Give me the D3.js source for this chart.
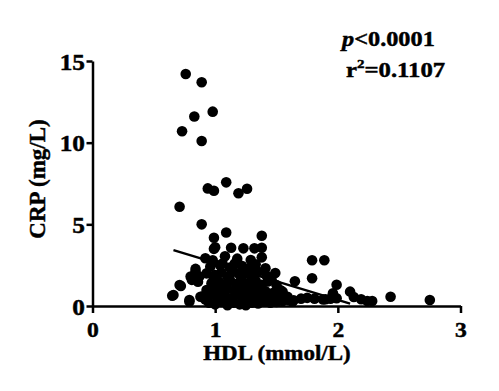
<!DOCTYPE html>
<html><head><meta charset="utf-8">
<script src="https://cdn.jsdelivr.net/npm/d3@7"></script>
<style>
html,body{margin:0;padding:0;background:#fff;}
svg text{font-family:"Liberation Serif","Times New Roman",serif !important;font-weight:bold !important;fill:#000;stroke:#000;stroke-width:0.45px;}
</style></head>
<body><svg id="c" width="499" height="391"></svg>
<script>
// HDL (mmol/L) values
const hdl = [
 0.76,0.89,0.83,0.98,0.73,0.89,
 0.94,0.99,1.09,1.19,1.26,0.71,
 0.89,1.09,0.99,1.38,1.38,1.13,1.23,1.32,0.99,1.00,
 1.38,0.92,1.08,1.18,1.29,1.79,1.89,1.79,0.98,
 1.41,1.49,1.65,1.99,2.10,2.43,2.75,2.28,2.24,2.19,2.13,1.99,1.96,1.90,1.94,1.88,1.81,1.75,1.70,1.64,1.63,1.55,
 0.65,0.72,0.79,0.80,0.84,0.93,0.86,0.88,0.93,0.99,0.66,0.71,0.81,0.87,0.84,0.79,
 0.95,1.00,1.05,1.10,1.15,1.20,1.25,1.30,1.35,1.40,1.45,1.50,1.55,1.60,1.02,1.12,1.22,1.32,0.92,
 0.90,0.97,1.03,1.08,1.14,1.18,1.24,1.28,1.34,1.38,1.43,1.48,1.59,1.53,
 0.95,1.00,1.05,1.10,1.16,1.21,1.26,1.31,1.36,1.41,1.47,1.53,1.50,
 0.97,1.03,1.07,1.12,1.17,1.22,1.27,1.33,1.38,1.43,1.46,
 1.00,1.05,1.10,1.15,1.20,1.25,1.30,1.35,1.42,
 0.96,1.04,1.12,1.16,1.22,1.28,1.33,1.06
];
// CRP (mg/L) values
const crp = [
 14.2,13.7,11.6,11.9,10.7,10.1,
 7.2,7.06,7.57,6.9,7.18,6.08,
 5.0,4.5,4.18,4.3,3.57,3.57,3.53,3.53,3.5,3.6,
 2.98,2.92,3.04,2.9,2.82,2.8,2.8,1.7,2.8,
 2.31,2.02,1.51,1.3,0.88,0.57,0.37,0.3,0.3,0.41,0.55,0.47,0.78,0.41,0.45,0.4,0.45,0.5,0.45,0.35,0.27,0.88,
 0.63,1.22,0.27,1.8,2.27,2.0,1.49,0.57,0.98,1.7,0.67,1.29,1.6,1.8,2.1,0.37,
 0.2,0.1,0.25,0.05,0.2,0.1,0.05,0.2,0.15,0.3,0.2,0.25,0.3,0.35,0.35,0.3,0.3,0.35,0.4,
 0.6,0.7,0.55,0.65,0.5,0.7,0.55,0.65,0.6,0.5,0.7,0.55,0.57,0.6,
 1.0,1.1,0.9,1.05,0.95,1.1,0.9,1.05,1.0,0.9,0.8,0.98,1.29,
 1.4,1.5,1.3,1.6,1.35,1.5,1.4,1.55,1.3,1.5,1.6,
 1.9,2.05,1.8,2.1,1.9,2.0,1.85,2.1,1.85,
 2.4,2.5,2.35,2.6,2.45,2.3,2.55,2.6
];
const xTicks = [0,1,2,3];
const yTicks = [0,5,10,15];
const fitX = [0.66, 2.10];
const fitSlope = -2.28, fitIntercept = 4.93;
const xTitle = "HDL (mmol/L)", yTitle = "CRP (mg/L)";

const svg = d3.select("#c");
const x = d3.scaleLinear().domain([0,3]).range([92.5,460.5]);
const y = d3.scaleLinear().domain([0,15]).range([306,61]);

// points
svg.append("g").selectAll("circle").data(hdl.map((v,i)=>[v,crp[i]])).join("circle")
  .attr("cx",d=>x(d[0])).attr("cy",d=>y(d[1])).attr("r",5.3).attr("fill","#000");

// fit line
svg.append("line")
  .attr("x1",x(fitX[0])).attr("y1",y(fitIntercept+fitSlope*fitX[0]))
  .attr("x2",x(fitX[1])).attr("y2",y(fitIntercept+fitSlope*fitX[1]))
  .attr("stroke","#000").attr("stroke-width",2.4);

// axes
const gx = svg.append("g").attr("transform","translate(0,306)")
  .call(d3.axisBottom(x).tickValues(xTicks).tickFormat(d3.format("d")).tickSize(7).tickSizeOuter(0));
const gy = svg.append("g").attr("transform","translate(92.5,0)")
  .call(d3.axisLeft(y).tickValues(yTicks).tickFormat(d3.format("d")).tickSize(6).tickSizeOuter(0).tickPadding(2));
[gx,gy].forEach(g=>{
  g.select(".domain").attr("stroke","#000").attr("stroke-width",2.5);
  g.selectAll(".tick line").attr("stroke","#000").attr("stroke-width",2.5);
  g.selectAll(".tick text").attr("fill","#000");
});
gy.selectAll(".tick text").style("font-size","23px").attr("x",0).attr("dy","0.35em").attr("transform","translate(-7.5,0) scale(1.1,1)");
gx.selectAll(".tick text").style("font-size","20.5px").attr("y",0).attr("dy",0).attr("transform","translate(0,30.5) scale(1.15,1)");

// titles
svg.append("text").attr("transform","translate(277,359.5) scale(1.07,1)").attr("text-anchor","middle").style("font-size","21.5px").text(xTitle);
svg.append("text").attr("transform","translate(45,179) rotate(-90)").attr("text-anchor","middle").style("font-size","23px").text(yTitle);

// annotation
const t1 = svg.append("text").attr("transform","translate(342,46) scale(1.13,1)").style("font-size","21.5px");
t1.append("tspan").style("font-style","italic").text("p");
t1.append("tspan").text("<0.0001");
const t2 = svg.append("text").attr("transform","translate(346,77) scale(1.15,1)").style("font-size","21.5px");
t2.append("tspan").text("r");
t2.append("tspan").style("font-size","13px").attr("dy",-9).text("2");
t2.append("tspan").attr("dy",9).text("=0.1107");
</script></body></html>
